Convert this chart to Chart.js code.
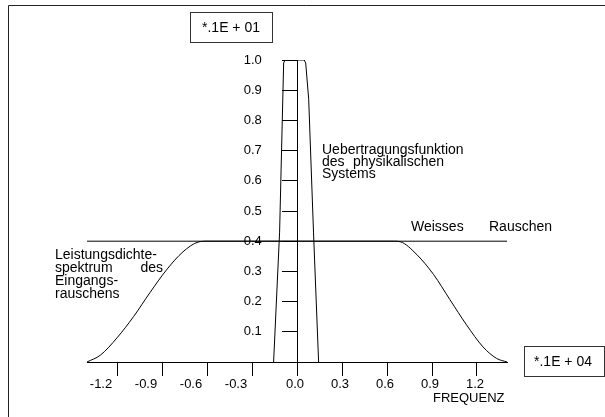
<!DOCTYPE html>
<html>
<head>
<meta charset="utf-8">
<script src="https://cdn.jsdelivr.net/npm/chart.js@4.4.1/dist/chart.umd.min.js"></script>
<style>
html,body{margin:0;padding:0;background:#fff;}
#wrap{position:relative;width:605px;height:417px;overflow:hidden;}
canvas{display:block;}
</style>
</head>
<body>
<div id="wrap"><canvas id="c" width="605" height="417"></canvas></div>
<script>
// ---- data ----
const xTickValues = [-1.2, -0.9, -0.6, -0.3, 0.0, 0.3, 0.6, 0.9, 1.2];
const xNegLabelValues = [-1.2, -0.9, -0.6, -0.3];
const xPosLabelValues = [0.0, 0.3, 0.6, 0.9, 1.2];
const yTickValues = [0.1, 0.2, 0.3, 0.4, 0.5, 0.6, 0.7, 0.8, 0.9, 1.0];

// Uebertragungsfunktion des physikalischen Systems
const transferX = [-0.156, -0.116, -0.089, -0.08, 0.048, 0.058, 0.078, 0.11, 0.144];
const transferY = [0, 0.43, 0.99, 1.0, 1.0, 0.99, 0.87, 0.43, 0];

// Weisses Rauschen
const whiteX = [-1.4, 1.4];
const whiteY = [0.4, 0.4];

// Leistungsdichtespektrum des Eingangsrauschens
const spectrumX = [-1.4, -1.31, -1.2, -1.09, -0.98, -0.87, -0.76, -0.66, -0.6, 0.65, 0.69, 0.8, 0.91, 1.02, 1.13, 1.24, 1.33, 1.4];
const spectrumY = [0, 0.023, 0.08, 0.15, 0.23, 0.305, 0.365, 0.397, 0.4, 0.4, 0.398, 0.355, 0.29, 0.206, 0.123, 0.05, 0.012, 0];

const toPts = (xs, ys) => xs.map((x, i) => ({x: x, y: ys[i]}));

const FONT = "'Liberation Sans', Arial, Helvetica, sans-serif";

const annotations = {
  id: 'annotations',
  afterDraw(chart) {
    const ctx = chart.ctx;
    ctx.save();
    // outer frame
    ctx.strokeStyle = '#222';
    ctx.lineWidth = 1;
    ctx.beginPath();
    ctx.moveTo(8.5, 417);
    ctx.lineTo(8.5, 5.5);
    ctx.lineTo(605, 5.5);
    ctx.stroke();

    // exponent boxes
    ctx.strokeStyle = '#333';
    ctx.strokeRect(190.5, 12.5, 82, 30);
    ctx.strokeRect(524.5, 346.5, 80, 30);

    ctx.fillStyle = '#000';
    ctx.textBaseline = 'middle';
    ctx.textAlign = 'center';
    ctx.font = '14px ' + FONT;
    ctx.fillText('*.1E + 01', 231, 28);
    ctx.fillText('*.1E + 04', 563, 362);

    ctx.textAlign = 'left';
    ctx.font = '13px ' + FONT;
    ctx.fillText('FREQUENZ', 433, 398);

    ctx.font = '14px ' + FONT;
    ctx.fillText('Uebertragungsfunktion', 322, 150);
    ctx.fillText('des', 322, 162);
    ctx.fillText('physikalischen', 353, 162);
    ctx.fillText('Systems', 322, 174);

    ctx.fillText('Weisses', 411, 227);
    ctx.fillText('Rauschen', 489, 227);

    ctx.fillText('Leistungsdichte-', 55, 255);
    ctx.fillText('spektrum', 55, 268);
    ctx.textAlign = 'right';
    ctx.fillText('des', 163, 268);
    ctx.textAlign = 'left';
    ctx.fillText('Eingangs-', 55, 281);
    ctx.fillText('rauschens', 55, 294);
    ctx.restore();
  }
};

const lineStyle = {
  showLine: true,
  borderColor: '#000',
  borderWidth: 1,
  pointRadius: 0,
  fill: false
};

const labelAxis = (values, offset) => ({
  type: 'linear',
  axis: 'x',
  min: -1.4, max: 1.4,
  position: {y: 0},
  afterBuildTicks: s => { s.ticks = values.map(v => ({value: v})); },
  afterFit: s => { s.height = 0; },
  border: {display: false},
  grid: {display: false, drawTicks: false, tickLength: 13},
  ticks: {
    color: '#000', padding: 15, maxRotation: 0, autoSkip: false, labelOffset: offset,
    font: {family: FONT, size: 13},
    callback: v => Number(v).toFixed(1)
  }
});

new Chart(document.getElementById('c'), {
  type: 'scatter',
  data: {
    datasets: [
      Object.assign({label: 'Uebertragungsfunktion', data: toPts(transferX, transferY), tension: 0}, lineStyle),
      Object.assign({label: 'Weisses Rauschen', data: toPts(whiteX, whiteY), tension: 0}, lineStyle),
      Object.assign({label: 'Leistungsdichtespektrum', data: toPts(spectrumX, spectrumY), cubicInterpolationMode: 'monotone'}, lineStyle)
    ]
  },
  options: {
    responsive: false,
    animation: false,
    events: [],
    layout: {padding: {left: 87, right: 98, top: 60, bottom: 55}},
    plugins: {legend: {display: false}, tooltip: {enabled: false}, title: {display: false}},
    scales: {
      x: {
        type: 'linear',
        min: -1.4, max: 1.4,
        position: {y: 0},
        afterBuildTicks: s => { s.ticks = xTickValues.map(v => ({value: v})); },
        afterFit: s => { s.height = 0; },
        border: {display: true, color: '#000', width: 1},
        grid: {display: true, drawOnChartArea: false, drawTicks: true, tickLength: 13, color: '#000', tickColor: '#000', lineWidth: 1},
        ticks: {display: false}
      },
      xNegLabels: labelAxis(xNegLabelValues, -16),
      xPosLabels: labelAxis(xPosLabelValues, -2),
      y: {
        type: 'linear',
        min: 0, max: 1.0,
        position: {x: 0},
        afterBuildTicks: s => { s.ticks = yTickValues.map(v => ({value: v})); },
        afterFit: s => { s.width = 0; },
        border: {display: true, color: '#000', width: 1},
        grid: {display: true, drawOnChartArea: false, drawTicks: true, tickLength: 15, color: '#000', tickColor: '#000', lineWidth: 1},
        ticks: {display: false}
      },
      yLabels: {
        type: 'linear',
        axis: 'y',
        min: 0, max: 1.0,
        position: {x: -0.235},
        afterBuildTicks: s => { s.ticks = yTickValues.map(v => ({value: v})); },
        afterFit: s => { s.width = 0; },
        border: {display: false},
        grid: {display: false},
        ticks: {
          color: '#000', padding: 0, autoSkip: false,
          font: {family: FONT, size: 13},
          callback: v => Number(v).toFixed(1)
        }
      }
    }
  },
  plugins: [annotations]
});
</script>
</body>
</html>
